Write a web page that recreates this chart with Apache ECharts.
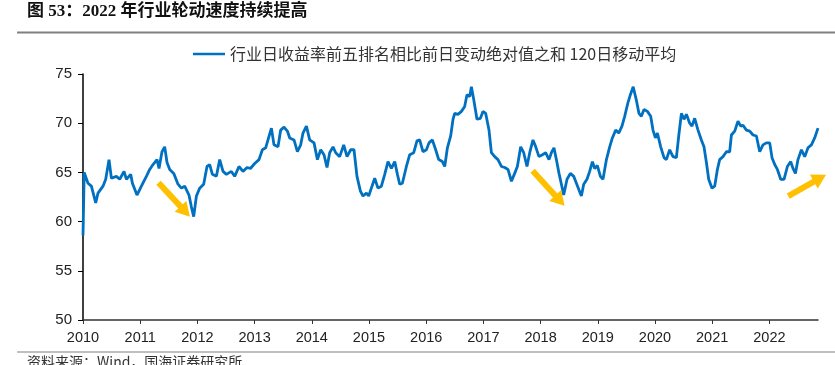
<!DOCTYPE html>
<html>
<head>
<meta charset="utf-8">
<script src="https://cdn.jsdelivr.net/npm/echarts@6/dist/echarts.min.js"></script>
<style>
html,body{margin:0;padding:0;background:#fff;}
#c{width:835px;height:365px;}
</style>
</head>
<body>
<div id="c"></div>
<script>
// Decimal year of each observation
var years = [
2010.000,2010.021,2010.087,2010.147,2010.222,2010.262,2010.350,2010.397,2010.455,2010.497,
2010.584,2010.642,2010.717,2010.759,2010.834,2010.864,2010.944,2011.021,2011.108,2011.166,
2011.224,2011.294,2011.329,2011.381,2011.428,2011.469,2011.516,2011.586,2011.661,2011.720,
2011.778,2011.853,2011.895,2011.935,2011.983,2012.040,2012.110,2012.168,2012.215,2012.262,
2012.332,2012.390,2012.448,2012.507,2012.594,2012.652,2012.727,2012.797,2012.867,2012.927,
2013.002,2013.077,2013.136,2013.194,2013.234,2013.294,2013.339,2013.409,2013.456,2013.514,
2013.573,2013.614,2013.689,2013.748,2013.806,2013.846,2013.906,2013.963,2014.039,2014.098,
2014.156,2014.213,2014.266,2014.313,2014.371,2014.418,2014.488,2014.558,2014.616,2014.680,
2014.738,2014.790,2014.850,2014.895,2014.955,2014.995,2015.053,2015.100,2015.157,2015.217,
2015.275,2015.332,2015.392,2015.450,2015.497,2015.537,2015.584,2015.654,2015.712,2015.782,
2015.839,2015.886,2015.944,2016.004,2016.049,2016.108,2016.166,2016.219,2016.283,2016.324,
2016.371,2016.428,2016.469,2016.498,2016.556,2016.616,2016.673,2016.713,2016.761,2016.790,
2016.831,2016.888,2016.948,2016.993,2017.040,2017.098,2017.140,2017.198,2017.255,2017.315,
2017.373,2017.430,2017.490,2017.547,2017.594,2017.652,2017.705,2017.762,2017.810,2017.867,
2017.915,2017.972,2018.032,2018.089,2018.147,2018.189,2018.234,2018.276,2018.322,2018.364,
2018.404,2018.462,2018.521,2018.579,2018.626,2018.672,2018.713,2018.754,2018.811,2018.858,
2018.906,2018.946,2018.993,2019.046,2019.091,2019.151,2019.208,2019.255,2019.313,2019.366,
2019.423,2019.470,2019.528,2019.570,2019.619,2019.672,2019.720,2019.762,2019.808,2019.867,
2019.925,2019.965,2020.007,2020.042,2020.100,2020.158,2020.199,2020.257,2020.315,2020.374,
2020.415,2020.462,2020.507,2020.549,2020.607,2020.647,2020.694,2020.752,2020.811,2020.857,
2020.899,2020.939,2020.997,2021.044,2021.091,2021.131,2021.189,2021.248,2021.306,2021.336,
2021.394,2021.451,2021.499,2021.539,2021.598,2021.656,2021.714,2021.773,2021.831,2021.888,
2021.948,2022.006,2022.046,2022.093,2022.140,2022.198,2022.256,2022.315,2022.373,2022.413,
2022.455,2022.500,2022.560,2022.618,2022.675,2022.735,2022.792,2022.850
];
// 行业日收益率前五排名相比前日变动绝对值之和 120日移动平均
var values = [
58.6,65.0,63.9,63.6,61.9,62.9,63.6,64.3,66.3,64.4,
64.6,64.3,65.1,64.3,64.8,63.9,62.7,63.6,64.6,65.3,
65.8,66.3,65.4,67.1,67.6,66.0,65.3,64.9,63.8,63.4,
63.6,62.7,61.5,60.5,62.6,63.4,63.8,65.6,65.8,64.8,
64.6,66.3,65.1,64.8,65.1,64.6,65.6,65.1,65.5,65.4,
65.9,66.3,67.3,67.5,68.3,69.5,67.8,67.6,69.3,69.6,
69.2,68.5,68.3,67.1,67.8,69.0,69.7,68.3,68.0,66.3,
67.3,66.8,65.5,67.0,67.6,67.0,66.6,67.8,66.6,67.3,
67.3,64.6,63.1,62.6,62.9,62.6,63.6,64.4,63.4,63.6,
64.8,66.1,65.4,66.1,64.8,63.8,63.9,65.6,66.8,67.0,
68.2,68.3,67.1,67.3,68.0,68.3,67.3,66.3,66.1,65.6,
67.5,68.7,70.4,71.0,70.9,71.2,71.7,72.9,72.7,73.7,
72.4,70.4,70.5,71.2,71.0,69.3,67.0,66.6,66.3,65.6,
65.5,65.3,64.1,64.9,65.6,67.6,67.0,65.6,67.0,68.3,
67.6,66.6,66.8,67.0,66.3,67.0,67.5,66.3,64.9,63.8,
62.7,64.3,64.9,64.6,63.9,63.2,62.6,63.8,64.3,65.1,
66.1,65.4,65.7,64.6,64.3,66.3,67.6,68.5,69.3,69.0,
69.7,70.7,72.1,72.9,73.7,72.4,71.0,70.7,71.4,71.2,
70.7,69.3,68.5,69.0,67.6,66.5,66.3,67.3,66.6,66.5,
68.7,71.0,70.4,70.9,70.0,69.7,70.5,69.3,68.3,67.6,
66.0,64.3,63.4,63.6,65.3,66.3,66.6,67.1,67.1,68.8,
69.2,70.2,69.7,69.8,69.3,69.2,68.8,68.7,67.1,67.8,
68.0,68.0,66.5,65.8,65.3,64.3,64.3,65.6,66.1,65.4,
64.9,66.3,67.3,66.6,67.5,67.8,68.5,69.5
];
var yearTicks = [2010,2011,2012,2013,2014,2015,2016,2017,2018,2019,2020,2021,2022];
var seriesName = '行业日收益率前五排名相比前日变动绝对值之和 120日移动平均';
var titleText = '图 53：2022 年行业轮动速度持续提高';
var sourceText = '资料来源：Wind，国海证券研究所';
// Annotation arrows, in data space [year, value]: [start, tip]
var arrows = [
  [[2011.32, 63.95], [2011.87, 60.5]],
  [[2017.86, 65.17], [2018.42, 61.6]],
  [[2022.33, 62.6], [2022.99, 64.77]]
];

var seriesData = years.map(function (y, i) { return [y, values[i]]; });

var chart = echarts.init(document.getElementById('c'), null, {renderer: 'canvas'});
var labelFont = '"Liberation Sans", Arial, sans-serif';
chart.setOption({
  animation: false,
  backgroundColor: '#fff',
  grid: {left: 83, right: 17, top: 74, bottom: 45, containLabel: false},
  legend: {
    top: 41, left: 188,
    itemWidth: 32, itemHeight: 14, itemGap: 6,
    icon: 'path://M0,6 L32,6 L32,8.5 L0,8.5 Z',
    textStyle: {fontFamily: '"Noto Sans CJK SC", sans-serif', fontSize: 16, color: '#333'},
    data: [seriesName]
  },
  xAxis: {
    type: 'value', min: 2010, max: 2022.85,
    axisLine: {show: true, lineStyle: {color: '#333', width: 1.5}},
    axisTick: {show: true, length: 4, customValues: yearTicks, lineStyle: {color: '#333'}},
    axisLabel: {customValues: yearTicks, margin: 10, fontSize: 14.5, color: '#222', fontFamily: labelFont,
      formatter: function (v) { return String(Math.round(v)); }},
    splitLine: {show: false}
  },
  yAxis: {
    type: 'value', min: 50, max: 75, interval: 5,
    axisLine: {show: true, lineStyle: {color: '#000', width: 1.5}},
    axisTick: {show: true, length: 5, lineStyle: {color: '#000'}},
    axisLabel: {margin: 11, fontSize: 15, color: '#222', fontFamily: labelFont},
    splitLine: {show: false}
  },
  series: [{
    name: seriesName,
    type: 'line',
    data: seriesData,
    showSymbol: false,
    symbol: 'none',
    lineStyle: {color: '#0070C0', width: 2.8},
    itemStyle: {color: '#0070C0'}
  }]
});

function arrowPoly(s, t) {
  var dx = t[0] - s[0], dy = t[1] - s[1];
  var L = Math.sqrt(dx * dx + dy * dy);
  var ux = dx / L, uy = dy / L, nx = -uy, ny = ux;
  var h = 14, w = 8, sw = 3;
  var bx = t[0] - ux * h, by = t[1] - uy * h;
  return [
    [s[0] + nx * sw, s[1] + ny * sw],
    [bx + nx * sw, by + ny * sw],
    [bx + nx * w, by + ny * w],
    [t[0], t[1]],
    [bx - nx * w, by - ny * w],
    [bx - nx * sw, by - ny * sw],
    [s[0] - nx * sw, s[1] - ny * sw]
  ];
}

var graphics = [
  {type: 'text', left: 27, top: 3, style: {text: titleText, fontSize: 17, fontWeight: 'bold',
    fontFamily: '"Liberation Serif", "Noto Sans CJK SC", serif', fill: '#111'}},
  {type: 'rect', shape: {x: 17, y: 31.5, width: 818, height: 2}, style: {fill: '#808080'}},
  {type: 'rect', shape: {x: 17, y: 351.5, width: 818, height: 1}, style: {fill: '#808080'}},
  {type: 'text', left: 27, top: 355, style: {text: sourceText, fontSize: 14,
    fontFamily: '"Noto Sans CJK SC", sans-serif', fill: '#333'}}
];
arrows.forEach(function (a) {
  var s = chart.convertToPixel({gridIndex: 0}, a[0]);
  var t = chart.convertToPixel({gridIndex: 0}, a[1]);
  graphics.push({type: 'polygon', shape: {points: arrowPoly(s, t)}, style: {fill: '#FFC000'}, z: 10});
});
chart.setOption({graphic: graphics});
</script>
</body>
</html>
